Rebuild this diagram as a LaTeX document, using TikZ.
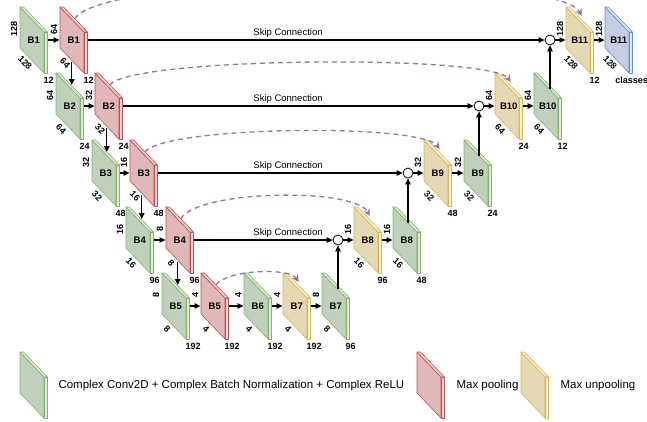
\documentclass[tikz,border=0pt]{standalone}
\usepackage{fontspec}
\setmainfont{Liberation Sans}
\usetikzlibrary{arrows.meta,calc}

\definecolor{gF}{RGB}{191,208,187}
\definecolor{gS}{RGB}{221,236,216}
\definecolor{gD}{RGB}{130,179,102}
\definecolor{rF}{RGB}{224,184,184}
\definecolor{rS}{RGB}{248,206,204}
\definecolor{rD}{RGB}{184,84,80}
\definecolor{yF}{RGB}{229,216,180}
\definecolor{yS}{RGB}{255,242,204}
\definecolor{yD}{RGB}{214,182,86}
\definecolor{bF}{RGB}{197,206,225}
\definecolor{bS}{RGB}{218,232,252}
\definecolor{bD}{RGB}{108,142,191}
\definecolor{purp}{RGB}{150,115,166}

% block geometry: width, slant, height, depth
\def\bw{24}\def\bs{25}\def\bh{41}\def\bd{3.5}

% name, x, y, type, label, side size, bottom size, channels
\newcommand{\ublock}[8]{%
  \begin{scope}[#4]
    \path[face] (#2,#3) -- ++(\bw,\bs) -- ++(0,\bh) -- ++(-\bw,-\bs) -- cycle;
    \path[side] (#2,#3) -- ++(\bd,0) -- ++(\bw,\bs) -- ++(-\bd,0) -- cycle;
    \path[side] (#2+\bw,#3+\bs) -- ++(\bd,0) -- ++(0,\bh) -- ++(-\bd,0) -- cycle;
  \end{scope}
  \node[blk] (#1) at (#2+\bw/2+\bd/2,#3+\bs/2+\bh/2) {#5};
  \node[num,rotate=90,anchor=south] (#1-h) at (#2-2,#3+22) {#6};
  \node[num,rotate=-45] (#1-w) at (#2+5,#3+56) {#7};
  \node[num,anchor=west] (#1-c) at (#2+23,#3+73) {#8};
}

\begin{document}
\begin{tikzpicture}[x=1pt,y=-1pt,
    conv/.style={face/.style={fill=gF,draw=gD,line width=0.6pt,line join=round},
                 side/.style={fill=gS,draw=gD,line width=0.6pt,line join=round}},
    pool/.style={face/.style={fill=rF,draw=rD,line width=0.6pt,line join=round},
                 side/.style={fill=rS,draw=rD,line width=0.6pt,line join=round}},
    unpool/.style={face/.style={fill=yF,draw=yD,line width=0.6pt,line join=round},
                   side/.style={fill=yS,draw=yD,line width=0.6pt,line join=round}},
    outc/.style={face/.style={fill=bF,draw=bD,line width=0.6pt,line join=round},
                 side/.style={fill=bS,draw=bD,line width=0.6pt,line join=round}},
    blk/.style={inner sep=0pt,minimum width=28pt,minimum height=20pt,
                font=\bfseries\fontsize{9.5}{10}\selectfont},
    num/.style={inner sep=0.5pt,font=\bfseries\fontsize{9}{9}\selectfont},
    arr/.style={-{Triangle[length=6pt,width=5.5pt]},line width=1.2pt},
    junc/.style={circle,draw,fill=white,line width=0.8pt,minimum size=10pt,inner sep=0pt},
    pooldash/.style={draw=purp,line width=1.3pt,dash pattern=on 5pt off 4pt,
                     -{Stealth[length=7pt,width=7pt]}},
    skiptxt/.style={font=\fontsize{9.5}{10}\selectfont},
    legtxt/.style={anchor=west,font=\fontsize{11.5}{13}\selectfont}]

    \useasboundingbox (0,0) rectangle (647,421);

    % encoder / decoder blocks
    \foreach \nm/\px/\py/\ty/\lb/\sa/\sb/\sc in {
        g1/20/7/conv/B1/128/128/12, p1/60/7/pool/B1/64/64/12,
        g2/56/73/conv/B2/64/64/24, p2/95/73/pool/B2/32/32/24,
        g3/92/140/conv/B3/32/32/48, p3/130/140/pool/B3/16/16/48,
        g4/126/207/conv/B4/16/16/96, p4/166/207/pool/B4/8/8/96,
        g5/162/273/conv/B5/8/8/192, p5/201/273/pool/B5/4/4/192,
        g6/244/273/conv/B6/4/4/192, u7/283/273/unpool/B7/4/4/192,
        g7/322/273/conv/B7/8/8/96,
        u8/354/207/unpool/B8/16/16/96, g8/393/207/conv/B8/16/16/48,
        u9/424/140/unpool/B9/32/32/48, g9/464/140/conv/B9/32/32/24,
        u10/495/73/unpool/B10/64/64/24, g10/534/73/conv/B10/64/64/12,
        u11/566/7/unpool/B11/128/128/12, b11/605/7/outc/B11/128/128/{}}
        \ublock{\nm}{\px}{\py}{\ty}{\lb}{\sa}{\sb}{\sc};
    \node[num,anchor=west] (cls) at ($(b11.center)+(-4,40)$) {classes};

    % merge points
    \foreach \n/\x/\y in {c1/550/40, c2/479/106, c3/408/173, c4/338/240}
        \node[junc] (\n) at (\x,\y) {};

    % skip connections
    \foreach \r/\yy in {1/33, 2/99, 3/166, 4/233}
        \node[skiptxt] (sk\r) at (288,\yy) {Skip Connection};

    \foreach \s/\e in {g1/p1, g2/p2, g3/p3, g4/p4, g5/p5, p5/g6, g6/u7, u7/g7,
                       u8/g8, u9/g9, u10/g10, u11/b11,
                       p1/c1, p2/c2, p3/c3, p4/c4, c1/u11, c2/u10, c3/u9, c4/u8}
        \draw[arr] (\s) -- (\e);

    % going down
    \foreach \s/\e in {p1/g2, p2/g3, p3/g4, p4/g5}
        \draw[arr] let \p1=($(\s.center)+(-2,22)$), \p2=(\e.center) in
            (\p1) -- (\x1,\y2+21pt);

    % going up into the merge points
    \foreach \s/\e in {g10/c1, g9/c2, g8/c3, g7/c4}
        \draw[arr] let \p1=(\e.south), \p2=(\s.center) in
            (\x1,\y2+17pt) -- (\e);

    % pooling indices
    \foreach \s/\e/\h/\k in {p1/u11/46/25, p2/u10/28/20, p3/u9/26/20, p4/u8/29/15, p5/u7/15/10}
        \draw[pooldash] ($(\s.center)+(1,-21)$) .. controls +(\k,-\h) and +(-\k,-\h) ..
            ($(\e.center)+(2,-24)$);

    % legend
    \ublock{lg}{20}{352}{conv}{}{}{}{}
    \ublock{lp}{417}{352}{pool}{}{}{}{}
    \ublock{lu}{521}{352}{unpool}{}{}{}{}
    \node[legtxt] (lgt) at (55,386) {Complex Conv2D + Complex Batch Normalization + Complex ReLU};
    \node[legtxt] (lpt) at (453,386) {Max pooling};
    \node[legtxt] (lut) at (557,386) {Max unpooling};
\end{tikzpicture}
\end{document}
